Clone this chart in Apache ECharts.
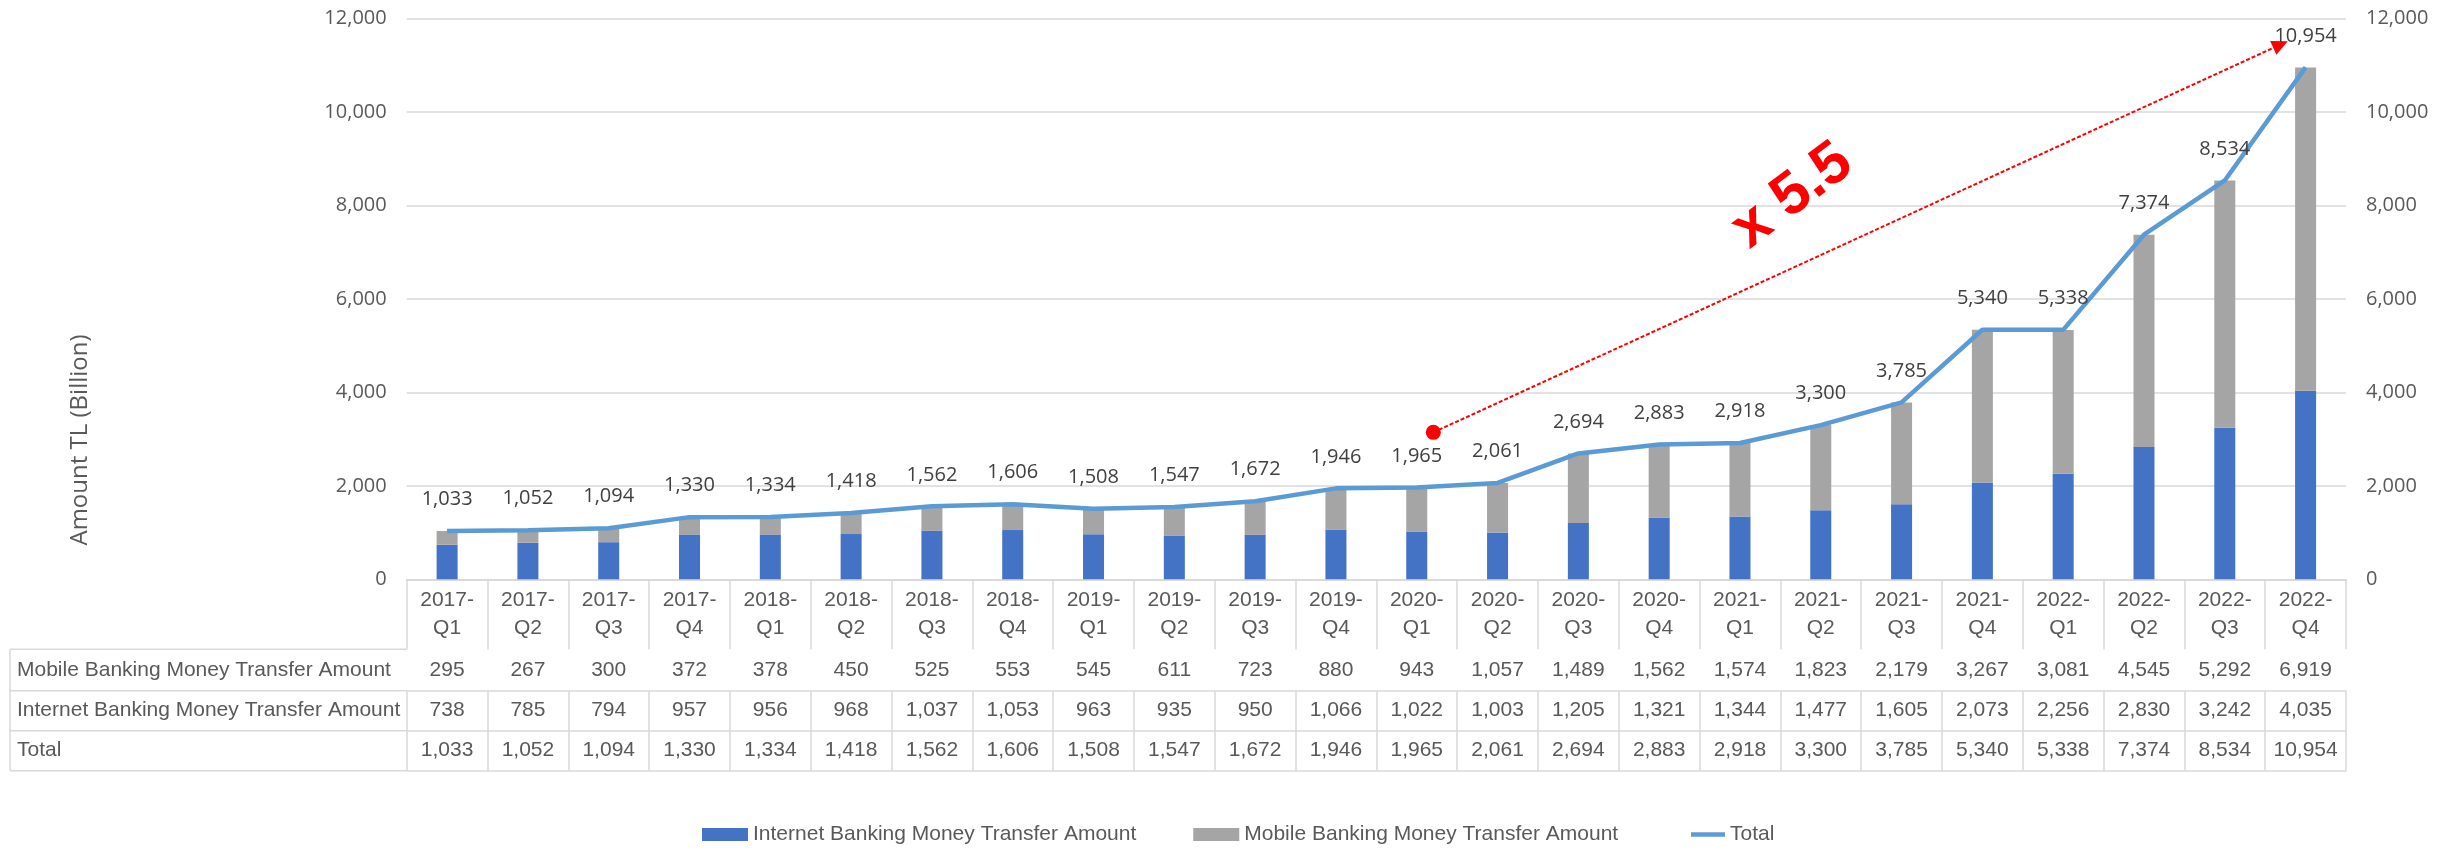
<!DOCTYPE html>
<html>
<head>
<meta charset="utf-8">
<title>Internet and Mobile Banking Money Transfer Amount</title>
<script src="https://cdn.jsdelivr.net/npm/echarts/dist/echarts.min.js"></script>
<style>
  html, body { margin: 0; padding: 0; background: #ffffff; }
  #chart { width: 2451px; height: 849px; }
</style>
</head>
<body>
<div id="chart"></div>
<script>
// Quarterly money transfer amounts, TL billion
const categories = [
  '2017-Q1', '2017-Q2', '2017-Q3', '2017-Q4',
  '2018-Q1', '2018-Q2', '2018-Q3', '2018-Q4',
  '2019-Q1', '2019-Q2', '2019-Q3', '2019-Q4',
  '2020-Q1', '2020-Q2', '2020-Q3', '2020-Q4',
  '2021-Q1', '2021-Q2', '2021-Q3', '2021-Q4',
  '2022-Q1', '2022-Q2', '2022-Q3', '2022-Q4'
];
const mobile = [
  295, 267, 300, 372, 378, 450, 525, 553, 545, 611, 723, 880,
  943, 1057, 1489, 1562, 1574, 1823, 2179, 3267, 3081, 4545, 5292, 6919
];
const internet = [
  738, 785, 794, 957, 956, 968, 1037, 1053, 963, 935, 950, 1066,
  1022, 1003, 1205, 1321, 1344, 1477, 1605, 2073, 2256, 2830, 3242, 4035
];
const total = [
  1033, 1052, 1094, 1330, 1334, 1418, 1562, 1606, 1508, 1547, 1672, 1946,
  1965, 2061, 2694, 2883, 2918, 3300, 3785, 5340, 5338, 7374, 8534, 10954
];
const rowNames = [
  'Mobile Banking Money Transfer Amount',
  'Internet Banking Money Transfer Amount',
  'Total'
];
const seriesNames = [
  'Internet Banking Money Transfer Amount',
  'Mobile Banking Money Transfer Amount',
  'Total'
];
const yMin = 0, yMax = 12000, yStep = 2000;
const yAxisTitle = 'Amount TL (Billion)';
// growth callout: from 2020-Q1 to 2022-Q4
const growthText = 'x 5.5';
const growthFrom = '2020-Q1';
const growthTo = '2022-Q4';

// ---- layout ----
const W = 2451, H = 849;
const GRID_L = 406.7, GRID_R = 2346, GRID_T = 18.5, GRID_B = 579.3;
const ROW_Y = [579.3, 649.3, 690.7, 730.7, 770.7];   // table row edges
const TABLE_X0 = 10;
const BORDER = '#D9D9D9';
const AXIS_TXT = '#595959';
const LABEL_TXT = '#404040';
const UI_FONT = '"Open Sans", "Noto Sans", sans-serif';
const TABLE_FONT = '"Liberation Sans", Arial, sans-serif';
const TABLE_SIZE = 21;

const fmt = v => Number(v).toLocaleString('en-US');
const rowValues = [mobile, internet, total];

const chart = echarts.init(document.getElementById('chart'), null, { renderer: 'canvas', width: W, height: H });

// x axes: the category header row plus one axis per table row
const xAxes = [{
  type: 'category',
  data: categories,
  position: 'bottom',
  offset: 0,
  axisLine: { show: true, lineStyle: { color: BORDER, width: 1.5 } },
  axisTick: { show: true, interval: 0, length: ROW_Y[1] - ROW_Y[0], lineStyle: { color: BORDER, width: 1.5 } },
  axisLabel: {
    interval: 0, margin: 7,
    fontFamily: TABLE_FONT, fontSize: TABLE_SIZE, lineHeight: 28, color: AXIS_TXT, align: 'center',
    formatter: v => v.replace('-', '-\n')
  },
  splitLine: { show: false }
}];
rowValues.forEach((vals, r) => {
  xAxes.push({
    type: 'category',
    data: categories,
    position: 'bottom',
    offset: ROW_Y[r + 1] - ROW_Y[0],
    axisLine: { show: true, lineStyle: { color: BORDER, width: 1.5 } },
    axisTick: { show: true, interval: 0, length: ROW_Y[r + 2] - ROW_Y[r + 1], lineStyle: { color: BORDER, width: 1.5 } },
    axisLabel: {
      interval: 0,
      margin: (ROW_Y[r + 2] - ROW_Y[r + 1]) / 2 - 12,
      fontFamily: TABLE_FONT, fontSize: TABLE_SIZE, lineHeight: 24, color: AXIS_TXT,
      formatter: (v, i) => fmt(vals[i])
    },
    splitLine: { show: false }
  });
});
// closing line under the last table row
xAxes.push({
  type: 'category',
  data: categories,
  position: 'bottom',
  offset: ROW_Y[4] - ROW_Y[0],
  axisLine: { show: true, lineStyle: { color: BORDER, width: 1.5 } },
  axisTick: { show: false },
  axisLabel: { show: false },
  splitLine: { show: false }
});

const valueAxis = (pos, grid) => ({
  type: 'value',
  position: pos,
  min: yMin, max: yMax, interval: yStep,
  axisLine: { show: false },
  axisTick: { show: false },
  splitLine: { show: grid, lineStyle: { color: BORDER, width: 1.5 } },
  axisLabel: {
    margin: 20, fontFamily: UI_FONT, fontSize: 20, color: AXIS_TXT,
    formatter: v => fmt(v)
  }
});

const legendText = { fontFamily: TABLE_FONT, fontSize: TABLE_SIZE, color: AXIS_TXT };

const option = {
  animation: false,
  backgroundColor: '#ffffff',
  grid: { left: GRID_L, right: W - GRID_R, top: GRID_T, bottom: H - GRID_B, containLabel: false },
  xAxis: xAxes,
  yAxis: [valueAxis('left', true), valueAxis('right', false)],
  legend: [
    {
      left: 702, top: 824, padding: 0,
      itemWidth: 46, itemHeight: 13, itemGap: 57,
      icon: 'rect',
      textStyle: legendText,
      data: [seriesNames[0], seriesNames[1]]
    },
    {
      left: 1691, top: 824, padding: 0,
      itemWidth: 34, itemHeight: 4.5,
      icon: 'rect',
      textStyle: legendText,
      data: [seriesNames[2]]
    }
  ],
  series: [
    {
      name: seriesNames[0], type: 'bar', stack: 'amount',
      data: internet, barWidth: '26%',
      itemStyle: { color: '#4472C4' }
    },
    {
      name: seriesNames[1], type: 'bar', stack: 'amount',
      data: mobile, barWidth: '26%',
      itemStyle: { color: '#A5A5A5' }
    },
    {
      name: seriesNames[2], type: 'line',
      data: total, symbol: 'circle', symbolSize: 1, showSymbol: true, z: 5,
      lineStyle: { color: '#5B9BD5', width: 4.5 },
      itemStyle: { color: '#5B9BD5' },
      label: {
        show: true, position: 'top', distance: 21,
        fontFamily: UI_FONT, fontSize: 20, color: LABEL_TXT,
        formatter: p => fmt(p.value)
      }
    }
  ]
};
chart.setOption(option);

// ---- table row headings, left border and growth callout ----
function px(catPos, value) {
  const i = Math.floor(catPos), f = catPos - i;
  const a = chart.convertToPixel({ xAxisIndex: 0, yAxisIndex: 0 }, [i, value]);
  const b = chart.convertToPixel({ xAxisIndex: 0, yAxisIndex: 0 }, [i + 1, value]);
  return [a[0] + (b[0] - a[0]) * f, a[1]];
}

const graphics = [];
// left column of the data table
for (let r = 1; r < ROW_Y.length; r++) {
  graphics.push({
    type: 'line', silent: true,
    shape: { x1: TABLE_X0, y1: ROW_Y[r], x2: GRID_L, y2: ROW_Y[r] },
    style: { stroke: BORDER, lineWidth: 1.5 }
  });
}
graphics.push({
  type: 'line', silent: true,
  shape: { x1: TABLE_X0, y1: ROW_Y[1], x2: TABLE_X0, y2: ROW_Y[4] },
  style: { stroke: BORDER, lineWidth: 1.5 }
});
rowNames.forEach((name, r) => {
  graphics.push({
    type: 'text', silent: true,
    x: TABLE_X0 + 7, y: (ROW_Y[r + 1] + ROW_Y[r + 2]) / 2,
    style: {
      text: name, fill: AXIS_TXT, font: TABLE_SIZE + 'px ' + TABLE_FONT,
      textAlign: 'left', textVerticalAlign: 'middle'
    }
  });
});
// y axis title
graphics.push({
  type: 'text', silent: true,
  x: 80, y: 440, rotation: Math.PI / 2,
  style: {
    text: yAxisTitle, fill: AXIS_TXT, font: '24px ' + UI_FONT,
    textAlign: 'center', textVerticalAlign: 'middle'
  }
});

// growth arrow between the two quarters
const iFrom = categories.indexOf(growthFrom);
const iTo = categories.indexOf(growthTo);
const p0 = px(iFrom + 0.205, 3144);
const p1 = px(iTo - 0.22, 11514);
const dx = p1[0] - p0[0], dy = p1[1] - p0[1];
const len = Math.hypot(dx, dy);
const ux = dx / len, uy = dy / len;
const headLen = 16, headHalf = 7.5;
const base = [p1[0] - ux * headLen, p1[1] - uy * headLen];
graphics.push({
  type: 'line', silent: true,
  shape: { x1: p0[0], y1: p0[1], x2: base[0], y2: base[1] },
  style: { stroke: '#FF0000', lineWidth: 2, lineDash: [4, 2] }
});
graphics.push({
  type: 'polygon', silent: true,
  shape: { points: [
    p1,
    [base[0] - uy * headHalf, base[1] + ux * headHalf],
    [base[0] + uy * headHalf, base[1] - ux * headHalf]
  ] },
  style: { fill: '#FF0000' }
});
graphics.push({
  type: 'circle', silent: true,
  shape: { cx: p0[0], cy: p0[1], r: 7.5 },
  style: { fill: '#FF0000' }
});
const pt = px(16.65, 8200);
graphics.push({
  type: 'text', silent: true,
  x: pt[0], y: pt[1], rotation: 37 * Math.PI / 180,
  style: {
    text: growthText, fill: '#FF0000',
    font: 'bold 60px "Liberation Sans", Arial, sans-serif',
    textAlign: 'center', textVerticalAlign: 'middle'
  }
});

chart.setOption({ graphic: { elements: graphics } });
</script>
</body>
</html>
